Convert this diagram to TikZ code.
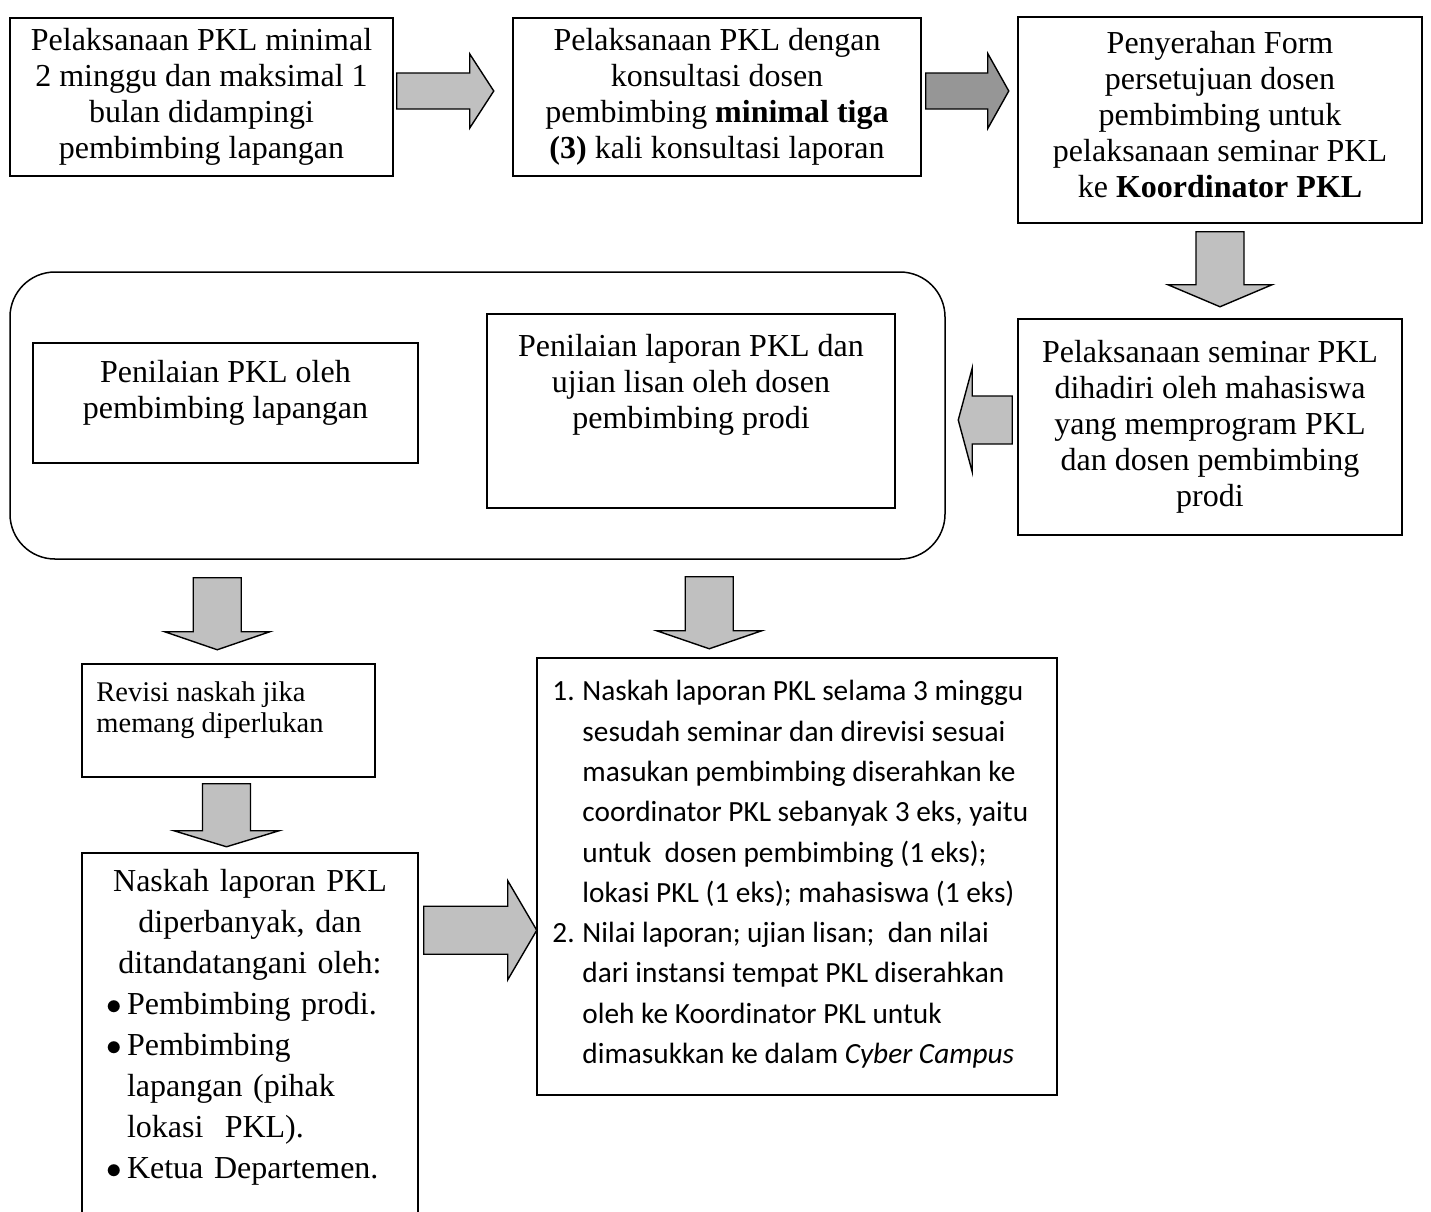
\documentclass[tikz,border=0pt]{standalone}
\usepackage{fontspec}
\setmainfont{Liberation Serif}
\newfontfamily\calibri{Carlito}
\usepackage{graphicx}
\usepackage{tikz}
\usetikzlibrary{positioning,calc}

\definecolor{arrowgray}{HTML}{C0C0C0}
\definecolor{arrowdark}{HTML}{969696}

\newcommand{\bigbullet}{\makebox[21pt][l]{\scalebox{1.25}{$\bullet$}}}

\begin{document}
\begin{tikzpicture}[x=1pt, y=-1pt,
    box/.style={draw=black, line width=1.5pt, fill=white, inner sep=0pt},
    txt/.style={align=center, inner sep=0pt, font=\fontsize{32}{36}\selectfont},
    blk/.style={draw=black, line width=1.4pt, fill=arrowgray, line join=miter},
    pics/barrow/.style n args={4}{code={
      \path[pic actions] (0,-#2) -- (#1-#4,-#2) -- (#1-#4,-#3) -- (#1,0)
        -- (#1-#4,#3) -- (#1-#4,#2) -- (0,#2) -- cycle;}}
  ]
  \useasboundingbox (0,0) rectangle (1431,1211);

  \node[box, txt, minimum width=383pt, minimum height=158pt] (A) at (201.5,97)
    {Pelaksanaan PKL minimal\\2 minggu dan maksimal 1\\bulan didampingi\\pembimbing lapangan};
  \node[box, txt, minimum width=408pt, minimum height=158pt] (B) at (717,97)
    {Pelaksanaan PKL dengan\\konsultasi dosen\\pembimbing \textbf{minimal tiga}\\\textbf{(3)} kali konsultasi laporan};
  \node[box, minimum width=404pt, minimum height=206pt] (C) at (1220,120) {};
  \node[txt, anchor=north] (Ct) at ($(C.north)+(0,15)$)
    {Penyerahan Form\\persetujuan dosen\\pembimbing untuk\\pelaksanaan seminar PKL\\ke \textbf{Koordinator PKL}};
  \node[box, txt, minimum width=384pt, minimum height=216pt] (D) at (1210,427)
    {Pelaksanaan seminar PKL\\dihadiri oleh mahasiswa\\yang memprogram PKL\\dan dosen pembimbing\\prodi};

  \node[box, rounded corners=45pt, minimum width=935pt, minimum height=287pt] (R) at (477.5,415.5) {};
  \node[box, minimum width=385pt, minimum height=120pt] (E1) at (225.5,403) {};
  \node[txt, anchor=north] (E1t) at ($(E1.north)+(0,18)$) {Penilaian PKL oleh\\pembimbing lapangan};
  \node[box, minimum width=408pt, minimum height=194pt] (E2) at (691,411) {};
  \node[txt, anchor=north] (E2t) at ($(E2.north)+(0,21)$) {Penilaian laporan PKL dan\\ujian lisan oleh dosen\\pembimbing prodi};

  \node[box, minimum width=293pt, minimum height=113pt] (F) at (228.5,720.5) {};
  \node[anchor=north west, align=left, inner sep=0pt, font=\fontsize{28.5}{31}\selectfont] (Ft)
    at ($(F.north west)+(15,18)$) {Revisi naskah jika\\memang diperlukan};

  \node[box, minimum width=336pt, minimum height=387pt] (G) at (250,1046.5) {};
  \node[anchor=north, inner sep=0pt, text width=288pt, align=left, font=\fontsize{32}{41}\selectfont] (Gt)
    at ($(G.north)+(0,17)$) {{\centering Naskah laporan PKL\\diperbanyak, dan\\ditandatangani oleh:\par}
    \bigbullet Pembimbing prodi.\\
    \bigbullet Pembimbing\\
    \hspace*{21pt}lapangan (pihak\\
    \hspace*{21pt}lokasi\ \ PKL).\\
    \bigbullet Ketua Departemen.};

  \node[box, minimum width=520pt, minimum height=437pt] (H) at (797,876.5) {};
  \node[anchor=north west, align=left, inner sep=0pt,
    font=\calibri\fontsize{29.3}{40.3}\selectfont] (Ht) at ($(H.north west)+(16,23)$)
    {\makebox[30pt][l]{1.}Naskah laporan PKL selama 3 minggu\\
    \hspace*{30pt}sesudah seminar dan direvisi sesuai\\
    \hspace*{30pt}masukan pembimbing diserahkan ke\\
    \hspace*{30pt}coordinator PKL sebanyak 3 eks, yaitu\\
    \hspace*{30pt}untuk\ \ dosen pembimbing (1 eks);\\
    \hspace*{30pt}lokasi PKL (1 eks); mahasiswa (1 eks)\\
    \makebox[30pt][l]{2.}Nilai laporan; ujian lisan;\ \ dan nilai\\
    \hspace*{30pt}dari instansi tempat PKL diserahkan\\
    \hspace*{30pt}oleh ke Koordinator PKL untuk\\
    \hspace*{30pt}dimasukkan ke dalam \textit{Cyber Campus}};

  \pic[blk] at ($(A.east)+(3,-6)$) {barrow={97}{18}{37}{24}};
  \pic[blk, fill=arrowdark] at ($(B.east)+(4,-6)$) {barrow={83}{18}{37.5}{21}};
  \pic[blk, rotate=-90] at ($(C.south)+(0,8)$) {barrow={75}{24}{52}{22}};
  \pic[blk, rotate=180] at ($(D.west)+(-5,-7)$) {barrow={54}{24}{52}{14}};
  \pic[blk, rotate=-90] at ($(R.south west)+(208,18)$) {barrow={72}{24}{52.5}{18}};
  \pic[blk, rotate=-90] at ($(R.south west)+(700,17)$) {barrow={72}{24}{52.5}{18}};
  \pic[blk, rotate=-90] at ($(F.south)+(-2,6)$) {barrow={63}{24}{52.5}{16}};
  \pic[blk] at ($(G.north east)+(5,78)$) {barrow={113}{24}{49.5}{29}};
\end{tikzpicture}
\end{document}
